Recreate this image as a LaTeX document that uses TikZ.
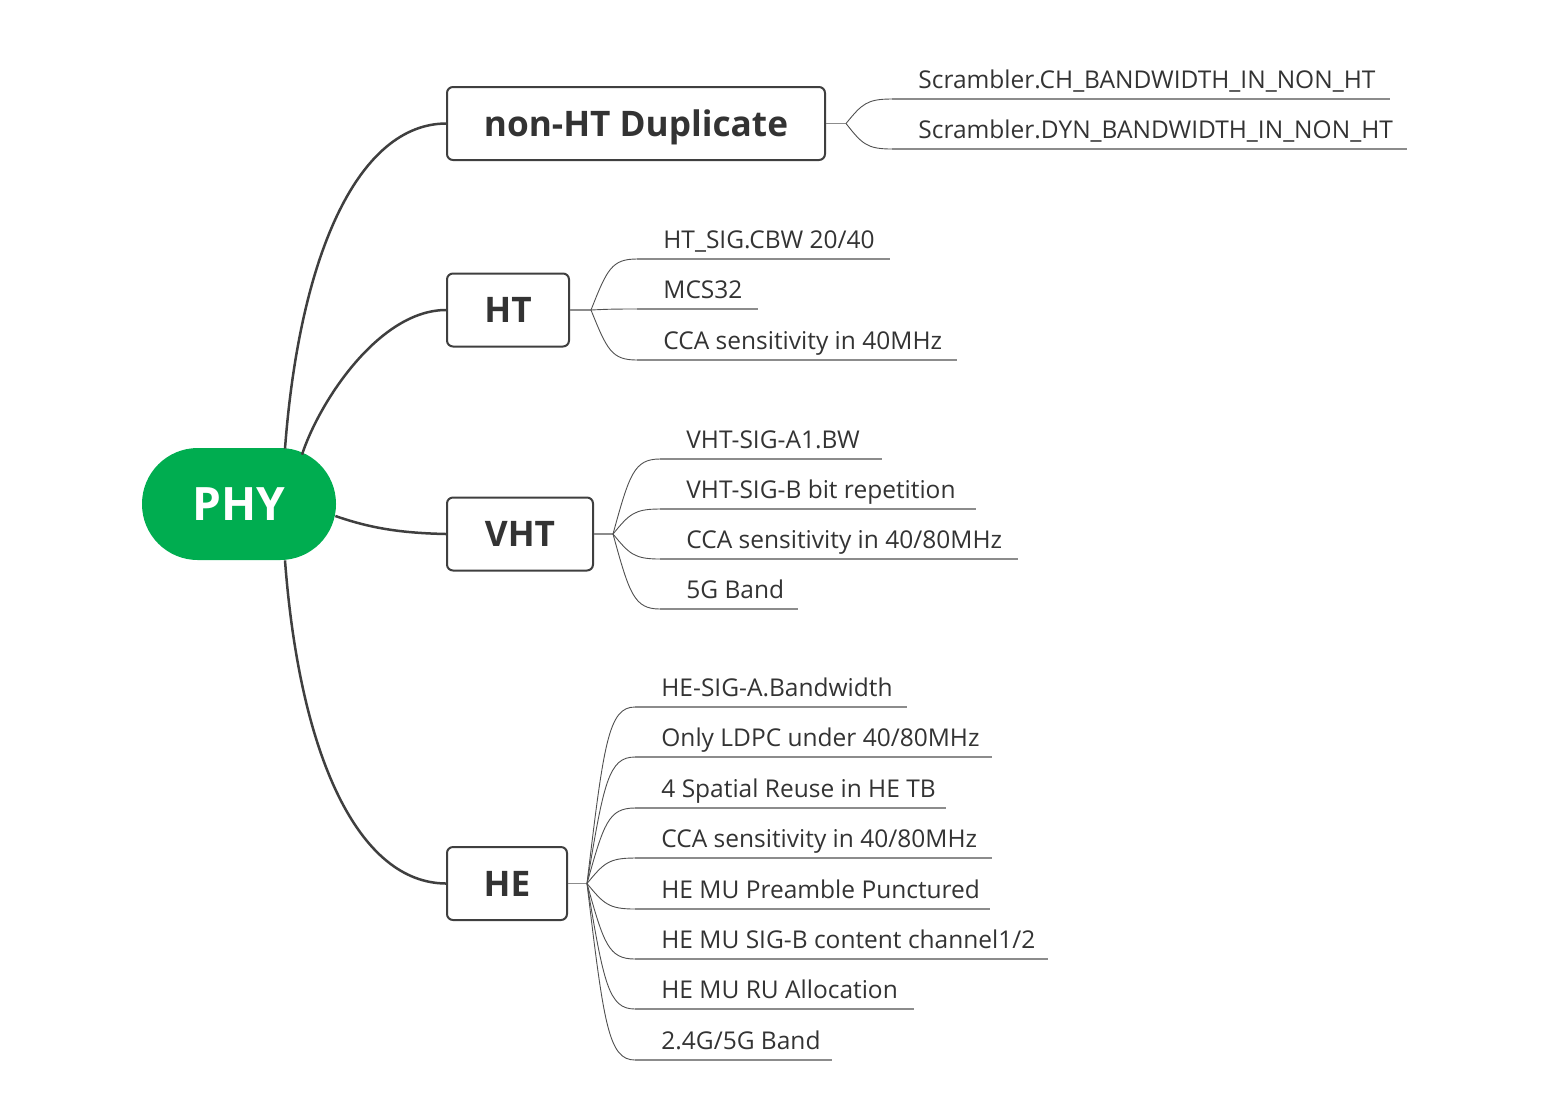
\documentclass[tikz,border=0pt]{standalone}
\usepackage{fontspec}
\setmainfont{Open Sans}
\usetikzlibrary{calc}
\definecolor{phygreen}{HTML}{00AD50}
\definecolor{linedark}{HTML}{3F3F3F}
\definecolor{twigdark}{HTML}{505050}
\definecolor{rulegray}{HTML}{8C8C8C}
\definecolor{textdark}{HTML}{333333}

% #1 fork coordinate, #2 node name, #3 underline y, #4 text x, #5 underline end x, #6 label
\newcommand\leafitem[6]{%
  \coordinate (#2c) at (#4-26,#3);
  \coordinate (#2e) at (#5,#3);
  \node[leaf] (#2) at (#4,#3-11) {#6};
  \coordinate (#2p) at ($(#1)!0.35!(#2c)$);
  \coordinate (#2q) at ($(#1)!0.8!(#2c)$);
  \coordinate (#2r) at ($(#1)!0.45!(#2c)$);
  \draw[twig] (#1) .. controls (#2p |- #2q) and (#2r |- #2c) .. (#2c);
  \draw[rule] (#2c) -- (#2e);
}

\begin{document}
\begin{tikzpicture}[x=0.5pt,y=-0.5pt,
  topic/.style={draw=linedark, line width=1pt, rounded corners=3pt, fill=white,
    text=textdark, inner sep=0pt, font=\bfseries\fontsize{17.6}{20}\selectfont,
    text height=12.6pt, text depth=0pt, minimum height=36.5pt},
  root/.style={fill=phygreen, rounded corners=27.9pt, text=white, inner sep=0pt,
    minimum width=97pt, minimum height=56pt, font=\bfseries\fontsize{23}{26}\selectfont,
    text height=16.4pt, text depth=0pt},
  leaf/.style={anchor=base west, inner sep=0pt, text=textdark,
    font=\fontsize{12.25}{14}\selectfont},
  limb/.style={draw=linedark, line width=1.25pt},
  twig/.style={draw=twigdark, line width=0.45pt},
  rule/.style={draw=rulegray, line width=0.7pt}]

\useasboundingbox (0,0) rectangle (1562,1094);

% central topic
\node[root] (phy) at (239,504) {PHY};

% main topics
\node[topic, minimum width=189pt] (dup) at (636,123.5) {non-HT Duplicate};
\node[topic, minimum width=61pt]  (ht)  at (508,310) {HT};
\node[topic, minimum width=73pt]  (vht) at (520,534) {VHT};
\node[topic, minimum width=60pt]  (he)  at (507,883.5) {HE};

% limbs from the central topic
\draw[limb] ($(phy.north)+(46,1)$) .. controls (300,250) and (360,124) .. (dup.west);
\draw[limb] ($(phy.north)+(63,7)$) .. controls (320,400) and (380,310) .. (ht.west);
\draw[limb] ($(phy.east)+(-1,12)$) .. controls (370,528) and (400,533) .. (vht.west);
\draw[limb] ($(phy.south)+(46,0)$) .. controls (300,760) and (360,883) .. (he.west);

% non-HT Duplicate
\coordinate (dupf) at ($(dup.east)+(20,0)$);
\draw[rule] (dup.east) -- (dupf);
\leafitem{dupf}{da}{99}{918}{1390}{Scrambler.CH\_BANDWIDTH\_IN\_NON\_HT}
\leafitem{dupf}{db}{149}{918}{1407}{Scrambler.DYN\_BANDWIDTH\_IN\_NON\_HT}

% HT
\coordinate (htf) at ($(ht.east)+(21,0)$);
\draw[rule] (ht.east) -- (htf);
\leafitem{htf}{ha}{259}{663}{890}{HT\_SIG.CBW 20/40}
\leafitem{htf}{hb}{309}{663}{758}{MCS32}
\leafitem{htf}{hc}{360}{663}{957}{CCA sensitivity in 40MHz}

% VHT
\coordinate (vhtf) at ($(vht.east)+(19,0)$);
\draw[rule] (vht.east) -- (vhtf);
\leafitem{vhtf}{va}{459}{686}{882}{VHT-SIG-A1.BW}
\leafitem{vhtf}{vb}{509}{686}{976}{VHT-SIG-B bit repetition}
\leafitem{vhtf}{vc}{559}{686}{1018}{CCA sensitivity in 40/80MHz}
\leafitem{vhtf}{vd}{609}{686}{798}{5G Band}

% HE
\coordinate (hef) at ($(he.east)+(19,0)$);
\draw[rule] (he.east) -- (hef);
\leafitem{hef}{ea}{707}{661}{907}{HE-SIG-A.Bandwidth}
\leafitem{hef}{eb}{757}{661}{992}{Only LDPC under 40/80MHz}
\leafitem{hef}{ec}{808}{661}{946}{4 Spatial Reuse in HE TB}
\leafitem{hef}{ed}{858}{661}{992}{CCA sensitivity in 40/80MHz}
\leafitem{hef}{ee}{909}{661}{990}{HE MU Preamble Punctured}
\leafitem{hef}{ef}{959}{661}{1048}{HE MU SIG-B content channel1/2}
\leafitem{hef}{eg}{1009}{661}{914}{HE MU RU Allocation}
\leafitem{hef}{eh}{1060}{661}{832}{2.4G/5G Band}

\end{tikzpicture}
\end{document}
